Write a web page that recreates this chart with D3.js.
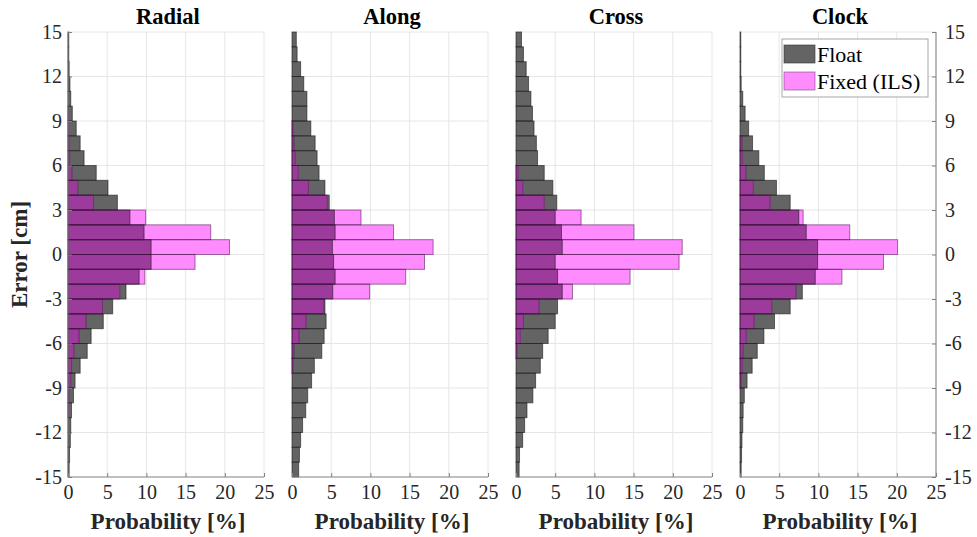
<!DOCTYPE html>
<html>
<head>
<meta charset="utf-8">
<script src="https://cdn.jsdelivr.net/npm/d3@7"></script>
<style>
  html, body { margin: 0; padding: 0; background: #fff; }
  svg { display: block; }
  svg text { font-family: "Liberation Serif", "Times New Roman", serif; }
</style>
</head>
<body>
<svg id="chart" width="977" height="537"></svg>
<script>
// Lower edges of the 1 cm error bins, from -15 cm up to 14 cm
const binEdges = d3.range(-15, 15);
const binWidth = 1;

// Probability [%] per bin, listed from the lowest bin (-15..-14) to the highest (14..15)
const radialFloat = [0.15,0.2,0.3,0.35,0.45,0.7,0.9,1.55,2.45,2.95,4.5,5.7,7.4,9.07,10.6,10.6,9.7,7.9,6.3,5.1,3.6,2.05,1.55,1.05,0.55,0.35,0.25,0.15,0.1,0.1];
const radialFixed = [0,0,0,0,0.05,0.1,0.35,0.45,0.75,1.4,2.3,4.4,6.6,9.8,16.2,20.6,18.2,9.9,3.25,1.25,0.5,0.2,0.1,0.05,0.05,0,0,0,0,0];

const alongFloat = [0.85,0.95,1.1,1.35,1.75,2.0,2.5,2.85,3.8,4.1,4.35,4.2,5.2,5.5,5.3,5.15,5.5,5.4,4.75,4.2,3.45,3.2,2.95,2.4,1.9,1.9,1.5,1.1,0.65,0.55];
const alongFixed = [0,0,0,0,0,0,0,0.1,0.25,0.9,1.8,4.05,9.9,14.5,16.9,18.0,12.95,8.8,4.5,2.1,0.8,0.4,0.25,0.1,0,0,0,0,0,0];

const crossFloat = [0.4,0.45,0.85,1.1,1.4,2.15,2.5,3.1,3.4,4.1,5.0,5.3,5.9,5.3,5.0,5.9,5.8,5.0,5.2,4.7,3.6,2.75,2.6,2.3,2.1,1.9,1.6,1.3,0.95,0.7];
const crossFixed = [0,0,0,0,0,0,0,0,0.15,0.55,0.95,2.95,7.2,14.55,20.8,21.2,15.05,8.3,3.6,0.85,0.3,0,0,0,0,0,0,0,0,0];

const clockFloat = [0.15,0.2,0.25,0.35,0.4,0.55,0.9,1.55,2.2,3.05,4.4,6.4,7.95,9.6,9.9,9.9,8.45,7.5,6.4,4.65,3.1,2.4,1.6,1.1,0.65,0.35,0.15,0.1,0.1,0.1];
const clockFixed = [0,0,0,0,0,0,0.15,0.3,0.4,0.8,1.8,4.05,7.15,13.0,18.3,20.1,14.0,8.05,3.85,1.7,0.75,0.3,0.25,0,0,0,0,0,0,0];

const panelTitles = ["Radial", "Along", "Cross", "Clock"];
const floatSeries = [radialFloat, alongFloat, crossFloat, clockFloat];
const fixedSeries = [radialFixed, alongFixed, crossFixed, clockFixed];
const legendLabels = ["Float", "Fixed (ILS)"];

const xTicks = [0, 5, 10, 15, 20, 25];
const yTicks = [-15, -12, -9, -6, -3, 0, 3, 6, 9, 12, 15];
const xLabel = "Probability [%]";
const yLabel = "Error [cm]";

// Layout
const panelLeft = [68, 292, 516, 740];
const panelW = 196;
const plotTop = 32, plotBottom = 477;

const colFloat = "#646464";
const colFixed = "#ff8cff";
const colBoth = "#9c3b9c";
const gridCol = "#e6e6e6";
const axisCol = "#808080";
const textCol = "#262626";

const svg = d3.select("#chart");

const y = d3.scaleLinear().domain([-15, 15]).range([plotBottom, plotTop]);
const plainNum = d => String(d);

panelTitles.forEach((title, i) => {
  const x0 = panelLeft[i];
  const x = d3.scaleLinear().domain([0, 25]).range([x0, x0 + panelW]);
  const g = svg.append("g");

  // grid
  g.append("g").selectAll("line").data(xTicks.filter(t => t > 0)).join("line")
    .attr("x1", d => x(d)).attr("x2", d => x(d))
    .attr("y1", plotTop).attr("y2", plotBottom)
    .attr("stroke", gridCol).attr("stroke-width", 1);
  g.append("g").selectAll("line").data(yTicks.filter(t => t > -15)).join("line")
    .attr("x1", x(0)).attr("x2", x(25))
    .attr("y1", d => y(d)).attr("y2", d => y(d))
    .attr("stroke", gridCol).attr("stroke-width", 1);

  const fl = floatSeries[i], fx = fixedSeries[i];
  const bins = binEdges.map((e, k) => ({ lo: e, hi: e + binWidth, f: fl[k], p: fx[k] }));

  const addBars = (data, val, attrs) => {
    const sel = g.append("g").selectAll("rect").data(data).join("rect")
      .attr("x", x(0)).attr("y", d => y(d.hi))
      .attr("width", d => x(val(d)) - x(0)).attr("height", d => y(d.lo) - y(d.hi));
    Object.entries(attrs).forEach(([k, v]) => sel.attr(k, v));
  };

  const hasF = bins.filter(b => b.f > 0);
  const hasP = bins.filter(b => b.p > 0);
  const hasBoth = bins.filter(b => Math.min(b.f, b.p) > 0);

  // float bars, fixed (ILS) bars, and their overlap
  addBars(hasF, d => d.f, { fill: colFloat });
  addBars(hasP, d => d.p, { fill: colFixed });
  addBars(hasBoth, d => Math.min(d.f, d.p), { fill: colBoth });
  // outlines
  addBars(hasF, d => d.f, { fill: "none", stroke: "#1a1a1a", "stroke-opacity": 0.6, "stroke-width": 1 });
  addBars(hasP, d => d.p, { fill: "none", stroke: "#4a104a", "stroke-opacity": 0.55, "stroke-width": 1 });

  // x axis
  const xa = g.append("g").attr("transform", `translate(0,${plotBottom})`)
    .call(d3.axisBottom(x).tickValues(xTicks).tickFormat(plainNum).tickSize(-4).tickPadding(8));
  xa.select(".domain").attr("stroke", axisCol).attr("d", `M${x(0)},0H${x(25)}`);
  xa.selectAll(".tick line").attr("stroke", axisCol);
  xa.selectAll("text").attr("fill", textCol).style("font-size", "20px")
    .style("font-family", "'Liberation Serif', 'Times New Roman', serif");

  // y axes: left on the first panel, right on the last
  if (i === 0 || i === 3) {
    const ax = i === 0 ? d3.axisLeft(y) : d3.axisRight(y);
    const ya = g.append("g").attr("transform", `translate(${i === 0 ? x(0) : x(25)},0)`)
      .call(ax.tickValues(yTicks).tickFormat(plainNum).tickSize(-4).tickPadding(i === 0 ? 6 : 9));
    ya.select(".domain").attr("stroke", axisCol).attr("d", `M0,${plotTop}V${plotBottom}`);
    ya.selectAll(".tick line").attr("stroke", axisCol);
    ya.selectAll("text").attr("fill", textCol).style("font-size", "20px")
      .style("font-family", "'Liberation Serif', 'Times New Roman', serif");
  }

  // title
  g.append("text").attr("x", x(12.5) + 2).attr("y", 24)
    .attr("text-anchor", "middle").attr("font-weight", "bold").attr("font-size", 22.5)
    .attr("fill", "#000").text(title);

  // x label
  g.append("text").attr("x", x(12.5) + 2).attr("y", 529)
    .attr("text-anchor", "middle").attr("font-weight", "bold").attr("font-size", 23)
    .attr("fill", textCol).text(xLabel);
});

// y label
svg.append("text").attr("transform", `translate(27,${y(0)}) rotate(-90)`)
  .attr("text-anchor", "middle").attr("font-weight", "bold").attr("font-size", 23)
  .attr("fill", textCol).text(yLabel);

// legend
const lg = svg.append("g");
lg.append("rect").attr("x", 782).attr("y", 39).attr("width", 146).attr("height", 58)
  .attr("fill", "#fff").attr("stroke", "#a6a6a6").attr("stroke-width", 1);
const swatch = [colFloat, colFixed];
legendLabels.forEach((lab, k) => {
  const yy = 45 + k * 27;
  lg.append("rect").attr("x", 784).attr("y", yy).attr("width", 31).attr("height", 18)
    .attr("fill", swatch[k]).attr("stroke", k === 0 ? "#333" : "#7a4a7a").attr("stroke-opacity", 0.6);
  lg.append("text").attr("x", 817).attr("y", yy + 17).attr("font-size", 22)
    .attr("fill", "#000").text(lab);
});
</script>
</body>
</html>
